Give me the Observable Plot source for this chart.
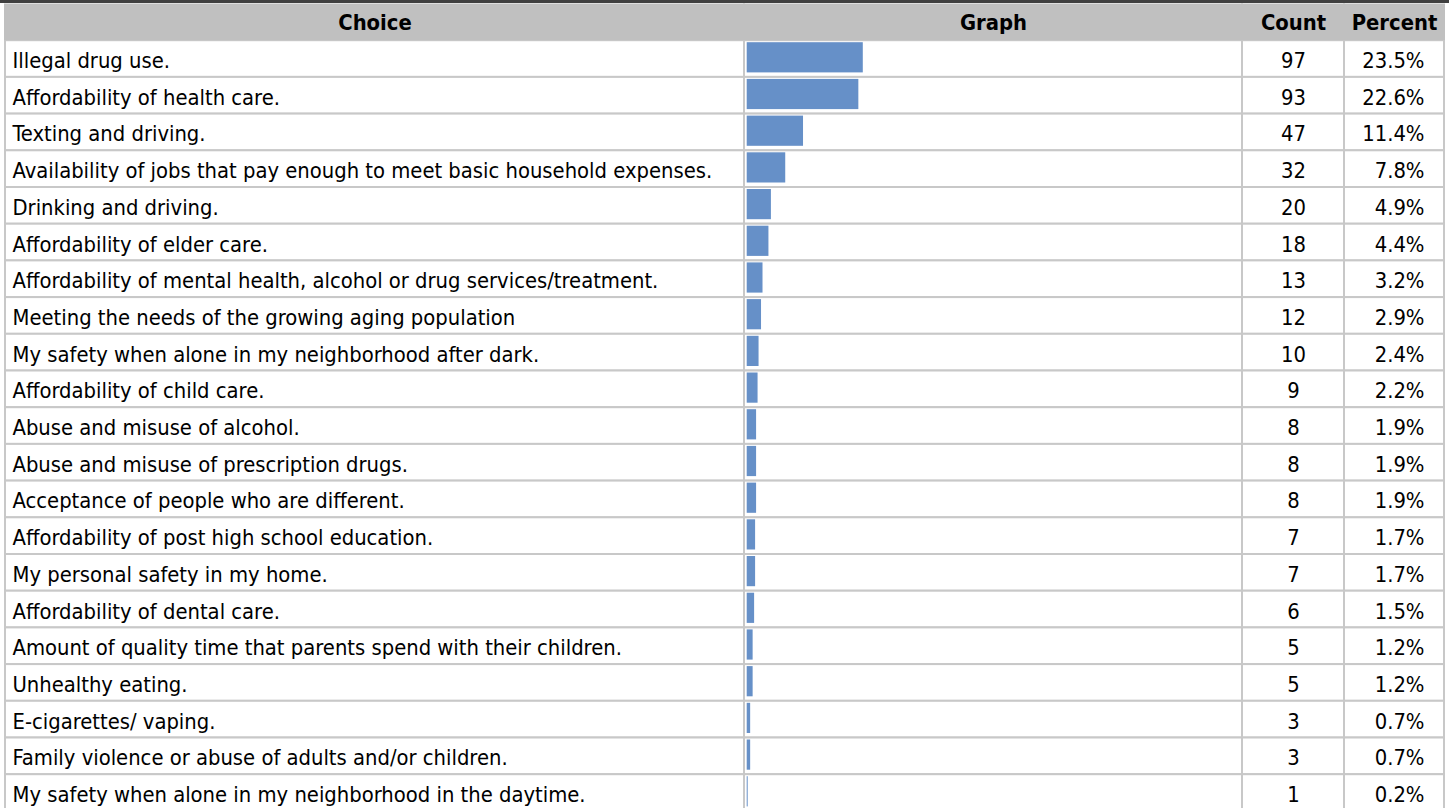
<!DOCTYPE html>
<html>
<head>
<meta charset="utf-8">
<script src="https://cdn.jsdelivr.net/npm/d3@7"></script>
<script src="https://cdn.jsdelivr.net/npm/@observablehq/plot@0.6"></script>
<style>
  html, body { margin: 0; padding: 0; background: #ffffff; }
  #chart { position: relative; width: 1454px; height: 808px; overflow: hidden; background: #ffffff; }
  #chart svg { position: absolute; top: 0; }
  #topbar { position: absolute; left: 0; top: 0; width: 1449px; height: 3px; background: #404040; z-index: 5; }
</style>
</head>
<body>
<div id="chart"></div>
<script>
// ---- data ----
const choices = [
  "Illegal drug use.",
  "Affordability of health care.",
  "Texting and driving.",
  "Availability of jobs that pay enough to meet basic household expenses.",
  "Drinking and driving.",
  "Affordability of elder care.",
  "Affordability of mental health, alcohol or drug services/treatment.",
  "Meeting the needs of the growing aging population",
  "My safety when alone in my neighborhood after dark.",
  "Affordability of child care.",
  "Abuse and misuse of alcohol.",
  "Abuse and misuse of prescription drugs.",
  "Acceptance of people who are different.",
  "Affordability of post high school education.",
  "My personal safety in my home.",
  "Affordability of dental care.",
  "Amount of quality time that parents spend with their children.",
  "Unhealthy eating.",
  "E-cigarettes/ vaping.",
  "Family violence or abuse of adults and/or children.",
  "My safety when alone in my neighborhood in the daytime."
];
const counts = [97, 93, 47, 32, 20, 18, 13, 12, 10, 9, 8, 8, 8, 7, 7, 6, 5, 5, 3, 3, 1];
const percents = [23.5, 22.6, 11.4, 7.8, 4.9, 4.4, 3.2, 2.9, 2.4, 2.2, 1.9, 1.9, 1.9, 1.7, 1.7, 1.5, 1.2, 1.2, 0.7, 0.7, 0.2];
const headers = ["Choice", "Graph", "Count", "Percent"];

const rows = choices.map((c, i) => ({choice: c, count: counts[i], pct: percents[i]}));

// ---- style ----
const FONT = "'DejaVu Sans Condensed', 'DejaVu Sans', sans-serif";
const FONT_SIZE = 21.8;
const LINE = "#c8c8c8";
const HEAD_FILL = "#c0c0c0";
const BAR = "#6690c8";
const HEAD = "\u200bheader";
const H = 808;
const ROW = 36.7;
const TOP = 3.5;
const TEXT_DY = 2;

const container = document.getElementById("chart");

function columnPlot(left, width, title, marks, extra = {}) {
  const svg = Plot.plot({
    width,
    height: H,
    marginLeft: 1,
    marginRight: 1,
    marginTop: 0,
    marginBottom: 0,
    y: {domain: [HEAD, ...choices], range: [TOP, TOP + ROW * (choices.length + 1)], padding: 0, round: false, axis: null},
    style: {background: "transparent", fontFamily: FONT, fontSize: FONT_SIZE + "px", color: "#000", overflow: "visible"},
    marks: [
      Plot.cell(rows, {y: "choice", fill: "#ffffff", stroke: LINE, strokeWidth: 2}),
      ...marks,
      Plot.cell([HEAD], {y: (d) => d, fill: HEAD_FILL, insetLeft: -1, insetRight: -1}),
      Plot.text([title], {y: () => HEAD, text: (d) => d, frameAnchor: "middle", fontWeight: "bold", fill: "#000", fontSize: FONT_SIZE, dy: 1})
    ],
    ...extra
  });
  svg.style.left = left + "px";
  container.append(svg);
}

// Choice column
columnPlot(4, 741, headers[0], [
  Plot.text(rows, {y: "choice", text: "choice", frameAnchor: "left", textAnchor: "start", dx: 7, dy: TEXT_DY, fill: "#000", fontSize: FONT_SIZE})
]);

// Graph column
columnPlot(743, 500, headers[1], [
  Plot.barX(rows, {x: "pct", y: "choice", fill: BAR, insetTop: 2, insetBottom: 4.5})
], {x: {domain: [0, 100], range: [3.7, 497.7], axis: null}});

// Count column
columnPlot(1241, 104, headers[2], [
  Plot.text(rows, {y: "choice", text: (d) => String(d.count), frameAnchor: "middle", dy: TEXT_DY, fill: "#000", fontSize: FONT_SIZE})
]);

// Percent column
columnPlot(1343, 102, headers[3], [
  Plot.text(rows, {y: "choice", text: (d) => d.pct.toFixed(1) + "%", frameAnchor: "right", textAnchor: "end", dx: -20, dy: TEXT_DY, fill: "#000", fontSize: FONT_SIZE})
]);

const topbar = document.createElement("div");
topbar.id = "topbar";
container.append(topbar);
</script>
</body>
</html>
